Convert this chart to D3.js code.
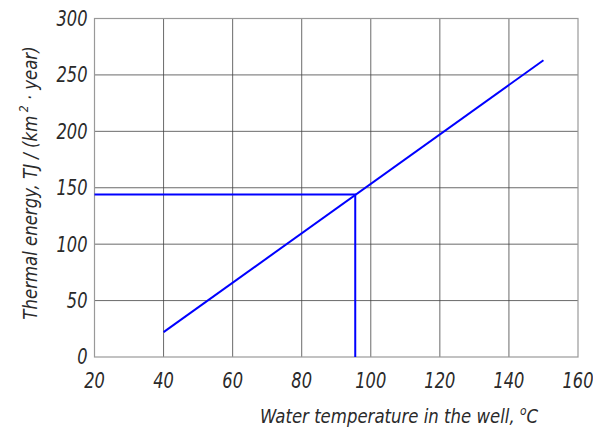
<!DOCTYPE html>
<html>
<head>
<meta charset="utf-8">
<script src="https://cdn.jsdelivr.net/npm/d3@7"></script>
<style>
  body { margin: 0; background: #fff; }
  text { font-family: "DejaVu Sans Condensed", "DejaVu Sans", sans-serif; font-stretch: condensed; font-style: italic; fill: #2a2a2a; }
</style>
</head>
<body>
<div id="chart"></div>
<script>
// values
let xTicks = [20, 40, 60, 80, 100, 120, 140, 160];
let yTicks = [0, 50, 100, 150, 200, 250, 300];
let lineTemp = [40, 150];
let lineEnergy = [22, 263];
let markTemp = 95.5;
let markEnergy = 144;

let width = 593;
let height = 430;
let margin = {left: 94.5, right: 15, top: 18.5, bottom: 73};

let svg = d3.select('#chart').append('svg')
            .attr('width', width)
            .attr('height', height);

let x = d3.scaleLinear()
          .domain([20, 160])
          .range([margin.left, width - margin.right]);

let y = d3.scaleLinear()
          .domain([0, 300])
          .range([height - margin.bottom, margin.top]);

// grid
svg.append('g')
   .selectAll('line')
   .data(xTicks.slice(1, -1))
   .join('line')
   .attr('x1', d => x(d)).attr('x2', d => x(d))
   .attr('y1', y(0)).attr('y2', y(300))
   .attr('stroke', '#444')
   .attr('stroke-width', 0.8);

svg.append('g')
   .selectAll('line')
   .data(yTicks.slice(1, -1))
   .join('line')
   .attr('x1', x(20)).attr('x2', x(160))
   .attr('y1', d => y(d)).attr('y2', d => y(d))
   .attr('stroke', '#444')
   .attr('stroke-width', 0.8);

svg.append('rect')
   .attr('x', x(20)).attr('y', y(300))
   .attr('width', x(160) - x(20))
   .attr('height', y(0) - y(300))
   .attr('fill', 'none')
   .attr('stroke', '#999')
   .attr('stroke-width', 1.2);

// narrow look of the drafting font
function squeeze(sel, cx, cy, k) {
    sel.attr('transform', `translate(${cx},${cy}) scale(${k},1) translate(${-cx},${-cy})`);
}

// tick labels
svg.append('g')
   .selectAll('text')
   .data(yTicks)
   .join('text')
   .attr('x', x(20) - 7)
   .attr('y', d => y(d) + 7.5)
   .attr('text-anchor', 'end')
   .attr('font-size', 21)
   .each(function(d) { squeeze(d3.select(this), x(20) - 7, y(d), 0.86); })
   .text(d => d);

svg.append('g')
   .selectAll('text')
   .data(xTicks)
   .join('text')
   .attr('x', d => x(d))
   .attr('y', y(0) + 31)
   .attr('text-anchor', 'middle')
   .attr('font-size', 21)
   .each(function(d) { squeeze(d3.select(this), x(d), y(0), 0.86); })
   .text(d => d);

// axis titles
let xt = svg.append('text')
   .attr('x', 399)
   .attr('y', 423)
   .attr('text-anchor', 'middle')
   .attr('font-size', 20);
xt.append('tspan').text('Water temperature in the well, ');
xt.append('tspan').attr('dy', -8).attr('font-size', 13).text('o');
xt.append('tspan').attr('dy', 8).text('C');
squeeze(xt, 399, 423, 0.92);

let yt = svg.append('text')
   .attr('transform', 'translate(37,183) rotate(-90) scale(0.92,1)')
   .attr('text-anchor', 'middle')
   .attr('font-size', 20);
yt.append('tspan').text('Thermal energy, TJ / (km');
yt.append('tspan').attr('dy', -9).attr('font-size', 13).text(' 2');
yt.append('tspan').attr('dy', 9).text(' · year)');

// data line
let line = d3.line()
             .x(d => x(d[0]))
             .y(d => y(d[1]));

svg.append('path')
   .attr('d', line(d3.zip(lineTemp, lineEnergy)))
   .attr('fill', 'none')
   .attr('stroke', '#0000ff')
   .attr('stroke-width', 2);

// reading guide
svg.append('path')
   .attr('d', line([[20, markEnergy], [markTemp, markEnergy], [markTemp, 0]]))
   .attr('fill', 'none')
   .attr('stroke', '#0000ff')
   .attr('stroke-width', 2);
</script>
</body>
</html>
